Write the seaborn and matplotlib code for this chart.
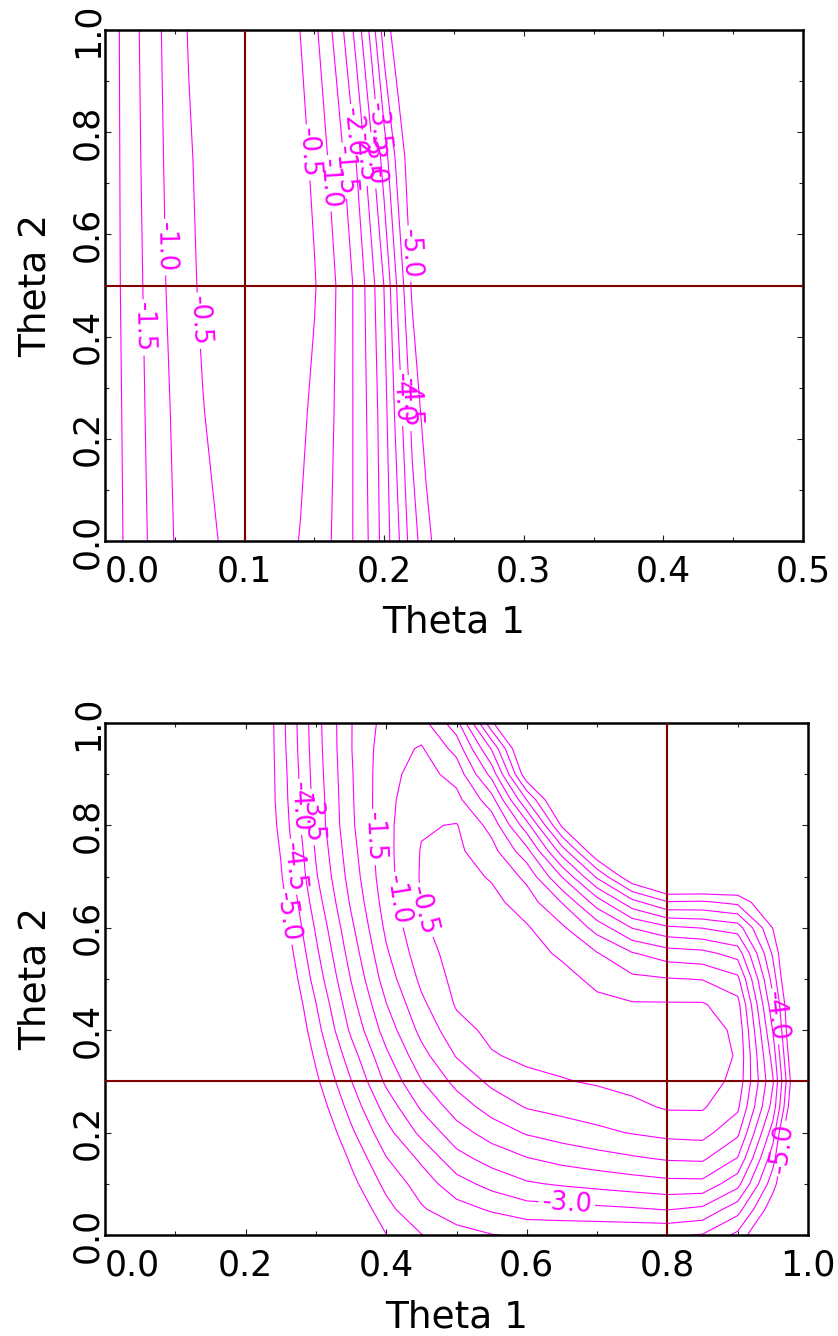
import numpy as np
import matplotlib
matplotlib.use("Agg")
import matplotlib.pyplot as plt
import seaborn as sns

# ---------------- data: log-likelihood surfaces ----------------
levels = [-5.0, -4.5, -4.0, -3.5, -3.0, -2.5, -2.0, -1.5, -1.0, -0.5]

# upper panel: theta1 in [0, 0.5], theta2 in [0, 1]
top_theta1 = [0.00, 0.01, 0.02, 0.03, 0.04, 0.05, 0.06, 0.07, 0.08, 0.09,
              0.10, 0.11, 0.12, 0.13, 0.14, 0.15, 0.16, 0.17, 0.18, 0.19,
              0.20, 0.21, 0.22, 0.23, 0.24, 0.25, 0.30, 0.40, 0.50]
top_theta2 = [0.00, 0.25, 0.50, 0.75, 1.00]
top_ll_000 = [-2.37, -2.08, -1.80, -1.51, -1.24, -0.98, -0.825, -0.67, -0.515, -0.38,
              -0.30, -0.28, -0.30, -0.38, -0.52, -0.73, -0.94, -1.23, -1.59, -2.07,
              -2.72, -3.42, -4.28, -4.80, -5.30, -5.80, -8.0, -12.0, -16.0]
top_ll_025 = [-2.36, -2.06, -1.76, -1.46, -1.17, -0.92, -0.72, -0.52, -0.38, -0.30,
              -0.25, -0.23, -0.25, -0.30, -0.40, -0.605, -0.87, -1.19, -1.60, -2.14,
              -2.81, -3.75, -4.62, -5.24, -5.80, -6.30, -8.5, -12.5, -16.5]
top_ll_050 = [-2.34, -2.03, -1.72, -1.41, -1.09, -0.84, -0.61, -0.42, -0.30, -0.22,
              -0.18, -0.17, -0.19, -0.24, -0.33, -0.46, -0.80, -1.17, -1.61, -2.25,
              -3.02, -4.12, -5.08, -5.70, -6.20, -6.70, -9.0, -13.0, -17.0]
top_ll_075 = [-2.35, -2.02, -1.68, -1.36, -1.05, -0.79, -0.55, -0.38, -0.27, -0.20,
              -0.16, -0.15, -0.17, -0.23, -0.34, -0.615, -1.02, -1.45, -2.02, -2.79,
              -3.75, -4.72, -5.30, -5.80, -6.30, -6.80, -9.2, -13.2, -17.2]
top_ll_100 = [-2.35, -2.01, -1.65, -1.32, -1.01, -0.73, -0.47, -0.33, -0.24, -0.18,
              -0.15, -0.15, -0.19, -0.30, -0.51, -0.885, -1.35, -1.94, -2.67, -3.60,
              -4.75, -5.30, -5.80, -6.30, -6.80, -7.30, -9.5, -13.5, -17.5]
top_truth = (0.1, 0.5)

# lower panel: theta1 in [0, 1], theta2 in [0, 1]
bot_theta1 = [0.00, 0.05, 0.10, 0.15, 0.20, 0.25, 0.30, 0.35, 0.40, 0.45, 0.50,
              0.55, 0.60, 0.65, 0.70, 0.75, 0.80, 0.85, 0.90, 0.95, 1.00]
bot_theta2 = [0.00, 0.05, 0.10, 0.15, 0.20, 0.25, 0.30, 0.35, 0.40, 0.45, 0.50,
              0.55, 0.60, 0.65, 0.70, 0.75, 0.80, 0.85, 0.90, 0.95, 1.00]
bot_ll_000 = [-14.8, -13.3, -11.8, -10.3, -8.8, -7.5, -6.5, -5.6, -5.01, -4.52, -4.2,
              -4.02, -3.93, -3.91, -3.93, -3.93, -3.93, -4.03, -4.62, -6.0, -8.5]
bot_ll_005 = [-14.6, -13.1, -11.6, -10.1, -8.6, -7.2, -6.2, -5.5, -4.67, -4.06, -3.7,
              -3.44, -3.22, -3.18, -3.12, -3.06, -2.98, -3.11, -3.8, -5.35, -8.0]
bot_ll_010 = [-14.4, -12.9, -11.4, -9.9, -8.4, -7.0, -6.0, -5.17, -4.36, -3.77, -3.2,
              -2.83, -2.56, -2.44, -2.34, -2.24, -2.15, -2.14, -2.83, -4.8, -6.8]
bot_ll_015 = [-14.2, -12.7, -11.2, -9.7, -8.2, -6.8, -5.85, -4.91, -4.02, -3.4, -2.67,
              -2.3, -2.02, -1.83, -1.69, -1.56, -1.44, -1.41, -2.02, -4.3, -7.2]
bot_ll_020 = [-14.0, -12.5, -11.0, -9.5, -8.0, -6.6, -5.6, -4.6, -3.67, -2.875, -2.21,
              -1.78, -1.45, -1.27, -1.11, -0.97, -0.86, -0.82, -1.39, -3.75, -7.9]
bot_ll_025 = [-13.8, -12.3, -10.8, -9.3, -7.8, -6.4, -5.35, -4.31, -3.3, -2.43, -1.77,
              -1.29, -0.97, -0.84, -0.74, -0.61, -0.45, -0.45, -0.9, -3.2, -7.3]
bot_ll_030 = [-13.6, -12.1, -10.6, -9.1, -7.6, -6.2, -5.11, -4.02, -2.9, -2.02, -1.35,
              -0.89, -0.63, -0.53, -0.45, -0.35, -0.25, -0.25, -0.65, -2.95, -7.05]
bot_ll_035 = [-13.4, -11.9, -10.4, -8.9, -7.4, -6.05, -4.91, -3.73, -2.6, -1.67, -0.97,
              -0.54, -0.4, -0.35, -0.3, -0.22, -0.15, -0.18, -0.55, -3.2, -7.3]
bot_ll_040 = [-13.2, -11.7, -10.2, -8.7, -7.2, -5.95, -4.7, -3.41, -2.28, -1.36, -0.68,
              -0.38, -0.3, -0.25, -0.22, -0.18, -0.2, -0.22, -0.62, -3.52, -7.4]
bot_ll_045 = [-13.0, -11.5, -10.0, -8.5, -7.0, -5.82, -4.52, -3.19, -2.02, -1.11, -0.45,
              -0.3, -0.24, -0.2, -0.35, -0.45, -0.45, -0.45, -0.82, -3.86, -7.2]
bot_ll_050 = [-12.8, -11.3, -9.8, -8.3, -6.8, -5.67, -4.29, -2.98, -1.76, -0.89, -0.35,
              -0.25, -0.22, -0.3, -0.65, -0.89, -0.97, -1.02, -1.375, -4.21, -7.5]
bot_ll_055 = [-12.6, -11.1, -9.6, -8.1, -6.6, -5.5, -4.11, -2.79, -1.57, -0.71, -0.3,
              -0.22, -0.28, -0.59, -0.97, -1.46, -1.76, -1.85, -2.2, -4.58, -7.2]
bot_ll_060 = [-12.4, -10.9, -9.4, -7.9, -6.4, -5.33, -3.94, -2.61, -1.4, -0.57, -0.27,
              -0.25, -0.45, -0.91, -1.7, -2.52, -2.9, -3.02, -3.25, -5.02, -8.0]
bot_ll_065 = [-12.2, -10.7, -9.2, -7.7, -6.2, -5.21, -3.74, -2.43, -1.27, -0.49, -0.27,
              -0.35, -0.75, -1.52, -2.75, -3.83, -4.46, -4.43, -4.63, -5.6, -8.5]
bot_ll_070 = [-12.0, -10.5, -9.0, -7.5, -6.0, -5.06, -3.56, -2.29, -1.18, -0.45, -0.3,
              -0.55, -1.125, -2.52, -4.09, -5.45, -6.2, -6.2, -6.0, -6.3, -9.0]
bot_ll_075 = [-11.95, -10.45, -8.95, -7.45, -5.95, -4.97, -3.45, -2.19, -1.15, -0.47, -0.4,
              -0.82, -1.83, -3.75, -5.5, -6.2, -6.9, -7.0, -6.9, -7.0, -9.5]
bot_ll_080 = [-12.0, -10.5, -9.0, -7.5, -6.0, -4.87, -3.34, -2.1, -1.13, -0.55, -0.47,
              -1.17, -2.8, -5.08, -6.3, -6.8, -7.5, -7.6, -7.6, -7.7, -10.0]
bot_ll_085 = [-12.05, -10.55, -9.05, -7.55, -6.05, -4.8, -3.31, -2.07, -1.14, -0.65, -0.85,
              -1.79, -4.02, -5.9, -6.9, -7.4, -8.0, -8.1, -8.2, -8.3, -10.5]
bot_ll_090 = [-12.1, -10.6, -9.1, -7.6, -6.1, -4.77, -3.26, -2.05, -1.16, -0.8, -1.18,
              -2.67, -5.4, -6.6, -7.5, -8.0, -8.5, -8.6, -8.8, -8.9, -11.0]
bot_ll_095 = [-12.2, -10.7, -9.2, -7.7, -6.2, -4.72, -3.22, -2.02, -1.21, -0.95, -1.67,
              -3.55, -6.0, -7.2, -8.1, -8.6, -9.0, -9.1, -9.4, -9.5, -11.5]
bot_ll_100 = [-12.24, -10.74, -9.24, -7.74, -6.24, -4.69, -3.19, -2.02, -1.3, -1.3, -2.3,
              -4.9, -6.6, -7.8, -8.7, -9.2, -9.5, -9.6, -10.0, -10.1, -12.0]
bot_truth = (0.8, 0.3)

# ---------------- style ----------------
sns.set_style("ticks")
plt.rcParams["font.family"] = ["DejaVu Sans"]
plt.rcParams.update({
    "text.color": "black",
    "axes.labelcolor": "black",
    "xtick.color": "black",
    "ytick.color": "black",
    "axes.edgecolor": "black",
})
LINE = "#ff00ff"
CROSS = "#800000"

fig = plt.figure(figsize=(8.38, 13.36), dpi=100)
ax_top = fig.add_axes([105 / 838, 1 - 541 / 1336, 698 / 838, 511 / 1336])
ax_bot = fig.add_axes([105 / 838, 1 - 1235 / 1336, 703 / 838, 512 / 1336])


def draw_panel(ax, t1, t2, rows, truth, xmajor, xminor, label_spots):
    z = np.array(rows)
    # one contour set per level so each label lands on its own level
    for lev in levels:
        cs = ax.contour(t1, t2, z, levels=[lev], colors=LINE,
                        linewidths=0.8, linestyles="solid")
        spots = [(x, y) for (l, x, y) in label_spots if l == lev]
        if spots:
            ax.clabel(cs, manual=spots, inline=True, inline_spacing=3,
                      fmt="%1.1f", fontsize=18.5, colors=LINE)
    ax.axvline(truth[0], color=CROSS, lw=1.5, zorder=3)
    ax.axhline(truth[1], color=CROSS, lw=1.5, zorder=3)

    ax.set_xlim(xmajor[0], xmajor[-1])
    ax.set_ylim(0, 1)
    ticks = ax.set_xticks(xmajor, [f"{v:.1f}" for v in xmajor])
    ticks[0].label1.set_horizontalalignment("left")
    ax.set_xticks(xminor, minor=True)
    ymajor = [0.0, 0.2, 0.4, 0.6, 0.8, 1.0]
    ax.set_yticks(ymajor, [f"{v:.1f}" for v in ymajor], rotation=90, va="center")
    ax.set_yticks([0.1, 0.3, 0.5, 0.7, 0.9], minor=True)

    ax.tick_params(which="both", direction="in", top=True, right=True,
                   width=0.8, color="#222222", labelcolor="black", labelsize=25)
    ax.tick_params(which="major", length=4.3)
    ax.tick_params(which="minor", length=3.0)
    ax.tick_params(axis="x", which="major", pad=10)
    ax.tick_params(axis="y", which="major", pad=0.5)
    for sp in ax.spines.values():
        sp.set_linewidth(1.8)
        sp.set_color("black")

    ax.set_xlabel("Theta 1", fontsize=27, color="black")
    ax.set_ylabel("Theta 2", fontsize=27, color="black")
    ax.xaxis.set_label_coords(0.5, -0.125)
    ax.yaxis.set_label_coords(-0.073, 0.5)


draw_panel(
    ax_top, top_theta1, top_theta2,
    [top_ll_000, top_ll_025, top_ll_050, top_ll_075, top_ll_100],
    top_truth,
    [0.0, 0.1, 0.2, 0.3, 0.4, 0.5],
    [0.05, 0.15, 0.25, 0.35, 0.45],
    [(-1.5, 0.027, 0.418), (-1.0, 0.042, 0.575), (-0.5, 0.0666, 0.431),
     (-0.5, 0.144, 0.76), (-1.0, 0.160, 0.70), (-1.5, 0.173, 0.725),
     (-2.0, 0.176, 0.80), (-2.5, 0.186, 0.75), (-3.0, 0.193, 0.745),
     (-3.5, 0.196, 0.81), (-4.0, 0.214, 0.28), (-4.5, 0.218, 0.27),
     (-5.0, 0.2199, 0.563)],
)

draw_panel(
    ax_bot, bot_theta1, bot_theta2,
    [bot_ll_000, bot_ll_005, bot_ll_010, bot_ll_015, bot_ll_020, bot_ll_025,
     bot_ll_030, bot_ll_035, bot_ll_040, bot_ll_045, bot_ll_050, bot_ll_055,
     bot_ll_060, bot_ll_065, bot_ll_070, bot_ll_075, bot_ll_080, bot_ll_085,
     bot_ll_090, bot_ll_095, bot_ll_100],
    bot_truth,
    [0.0, 0.2, 0.4, 0.6, 0.8, 1.0],
    [0.1, 0.3, 0.5, 0.7, 0.9],
    [(-4.0, 0.277, 0.836), (-3.5, 0.294, 0.816), (-4.5, 0.266, 0.719),
     (-5.0, 0.259, 0.621), (-1.5, 0.380, 0.777), (-1.0, 0.4125, 0.654),
     (-0.5, 0.455, 0.635), (-3.0, 0.657, 0.062), (-4.0, 0.955, 0.427),
     (-5.0, 0.960, 0.169)],
)

fig.savefig("out.png", dpi=100)
